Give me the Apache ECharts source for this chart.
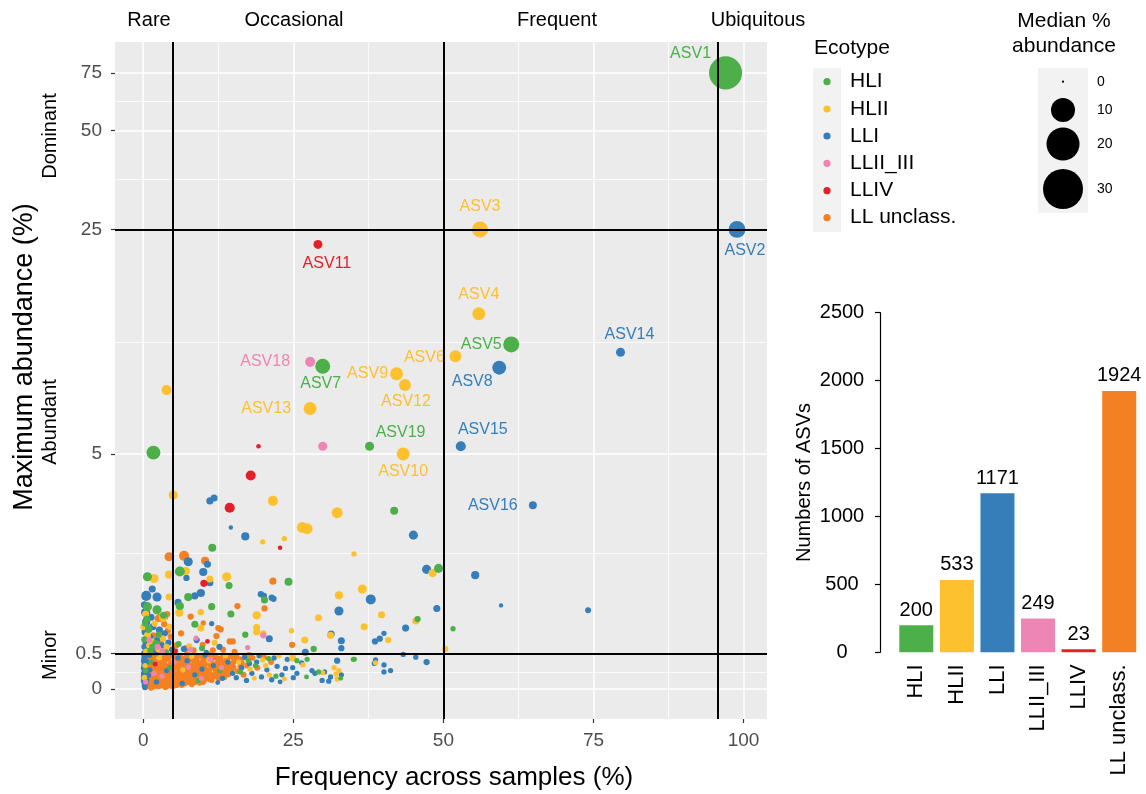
<!DOCTYPE html>
<html>
<head>
<meta charset="utf-8">
<title>ASV abundance vs frequency</title>
<script src="https://cdn.jsdelivr.net/npm/echarts@6.0.0/dist/echarts.min.js"></script>
<style>
html, body { margin: 0; padding: 0; background: #fff; }
#chart { width: 1146px; height: 794px; }
</style>
</head>
<body>
<div id="chart"></div>
<script>
//categories and counts
let ecotypes = ["HLI", "HLII", "LLI", "LLII_III", "LLIV", "LL unclass."];
let asvCounts = [200, 533, 1171, 249, 23, 1924];
let ecoColors = ["#4CAF49", "#FDC02F", "#357EBA", "#EE86B5", "#E3202A", "#F48024"];

//axis ticks
let xTicks = [0, 25, 50, 75, 100];
let yTicks = [0, 0.5, 5, 25, 50, 75];
let freqCuts = [5, 50, 95.7]; //rare / occasional / frequent / ubiquitous
let abundCuts = [0.5, 25]; //minor / abundant / dominant
let sizeBreaks = [0, 10, 20, 30];

//points: [frequency %, max abundance %, median abundance %, label]
let hli = [
    [97.0, 75, 20, "ASV1"], [61.3, 11.1, 4.0, "ASV5"], [29.9, 9.5, 3.4, "ASV7"], [37.7, 5.3, 1.0, "ASV19"],
    [1.7, 5.05, 2.9], [41.8, 3.2, 0.7], [11.5, 2.32, 0.7], [14.3, 1.58, 0.5], [24.2, 1.65, 0.7],
    [49.2, 1.9, 1.0], [0.7, 1.74, 1.0], [6.1, 1.84, 1.3], [0.7, 1.22, 1.0], [2.3, 1.17, 1.0],
    [6.1, 1.23, 0.75], [7.5, 1.38, 0.75], [20.2, 1.33, 0.5], [11.4, 1.22, 0.5], [14.6, 1.1, 0.5],
    [45.7, 1.02, 0.35], [8.6, 0.94, 0.5], [17.0, 0.78, 0.35], [28.4, 0.57, 0.35], [51.6, 0.87, 0.2],
    [35.0, 0.42, 0.2], [25.6, 0.40, 0.2], [27.3, 0.42, 0.2], [29.2, 0.24, 0.2], [0.9, 0.86, 0.5],
    [2.1, 0.65, 0.5], [3.4, 1.08, 0.5], [35.2, 0.42, 0.15], [27.2, 0.17, 0.15], [32.9, 0.15, 0.15],
    [0.6, 1.02, 0.5], [0.2, 0.71, 0.35], [1.5, 0.6, 0.35], [2.6, 0.78, 0.35], [0.9, 0.88, 0.35],
    [3.8, 0.52, 0.35], [1.2, 0.54, 0.35], [16.2, 0.24, 0.2], [18.7, 0.33, 0.2], [20.9, 0.43, 0.2],
    [22.1, 0.18, 0.2], [17.5, 0.4, 0.2], [4.4, 0.3, 0.2], [9.2, 0.12, 0.2], [1.3, 0.38, 0.2], [12.8, 0.26, 0.2],
    [0.3, 0.95, 0.35], [5.9, 0.64, 0.3], [9.8, 0.58, 0.3], [0.4, 0.26, 0.25]
];
let hlii = [
    [56.1, 25, 4.0, "ASV3"], [55.9, 13.8, 2.45, "ASV4"], [52.0, 10.2, 2.0, "ASV6"], [42.2, 9.0, 2.45, "ASV9"],
    [43.6, 8.3, 2.0, "ASV12"], [27.8, 7.0, 2.45, "ASV13"], [43.3, 5.0, 2.45, "ASV10"],
    [3.9, 8.0, 1.3], [5.0, 3.64, 1.0], [21.6, 3.47, 1.3], [32.3, 3.15, 1.6], [26.5, 2.78, 1.6],
    [27.3, 2.75, 1.6], [19.9, 2.45, 0.2], [23.5, 2.52, 0.2], [35.1, 2.19, 0.2], [4.3, 1.78, 0.75],
    [1.8, 1.71, 1.0], [7.1, 1.85, 0.75], [11.1, 1.7, 0.5], [13.9, 1.74, 1.0], [48.2, 1.81, 0.75],
    [4.3, 1.38, 0.5], [32.6, 1.41, 0.75], [36.5, 1.52, 1.0], [6.0, 1.12, 0.75], [9.6, 1.13, 0.35],
    [18.9, 1.08, 0.75], [29.2, 1.04, 0.5], [39.7, 1.09, 0.5], [45.4, 0.99, 0.5], [3.3, 1.04, 0.75],
    [9.6, 0.88, 0.5], [18.9, 0.89, 0.5], [18.9, 0.82, 0.5], [20.0, 0.8, 0.35], [24.7, 0.84, 0.2],
    [26.9, 0.70, 0.5], [40.8, 0.70, 0.35], [50.3, 0.57, 0.35], [24.9, 0.44, 0.5], [36.8, 0.9, 0.5],
    [31.2, 0.77, 0.5], [31.8, 0.3, 0.2], [32.6, 0.26, 0.2], [32.1, 0.21, 0.2], [32.3, 0.14, 0.2],
    [29.9, 0.23, 0.2], [26.6, 0.34, 0.2], [38.7, 0.37, 0.2],
    [0.4, 1.1, 0.5], [0.1, 0.9, 0.5], [1.4, 0.68, 0.35], [0.7, 0.77, 0.5], [2.5, 0.57, 0.35],
    [3.3, 0.72, 0.35], [1.9, 0.95, 0.35], [0.5, 0.53, 0.35], [4.4, 0.9, 0.35], [3.9, 0.6, 0.35],
    [2.2, 1.15, 0.5], [1.0, 0.62, 0.35],
    [15.9, 0.38, 0.2], [17.8, 0.28, 0.2], [19.9, 0.41, 0.2], [21.0, 0.2, 0.2], [22.6, 0.47, 0.2],
    [23.5, 0.14, 0.15], [18.5, 0.15, 0.15], [20.4, 0.33, 0.2], [0.3, 0.33, 0.2], [2.7, 0.44, 0.2],
    [6.6, 0.27, 0.2], [10.9, 0.4, 0.2], [13.7, 0.47, 0.2], [8.1, 0.46, 0.2],
    [0.2, 0.16, 0.25], [7.7, 0.61, 0.3], [11.9, 0.66, 0.3]
];
let lli = [
    [98.9, 25, 4.5, "ASV2"], [59.3, 9.4, 2.9, "ASV8"], [79.5, 10.5, 0.97, "ASV14"], [52.9, 5.3, 1.3, "ASV15"],
    [64.9, 3.35, 0.7, "ASV16"],
    [11.1, 3.47, 0.5], [11.8, 3.55, 0.5], [14.6, 2.78, 0.1], [17.0, 2.57, 0.75], [45.0, 2.6, 1.0],
    [7.5, 2.03, 1.0], [10.7, 1.98, 0.5], [10.0, 1.83, 0.75], [7.2, 1.72, 0.35], [11.1, 1.63, 0.5],
    [55.3, 1.77, 0.75], [59.6, 1.24, 0.1], [74.1, 1.16, 0.3], [0.5, 1.40, 1.3], [1.5, 1.52, 0.5],
    [2.3, 1.38, 1.0], [5.8, 1.29, 0.5], [8.6, 1.40, 0.5], [9.6, 1.45, 0.75], [19.6, 1.43, 0.35],
    [20.1, 1.40, 0.35], [21.4, 1.37, 0.35], [21.7, 1.35, 0.35], [0.4, 1.13, 1.0], [11.4, 0.95, 0.2],
    [21.0, 0.72, 0.5], [31.3, 0.79, 0.5], [47.2, 1.88, 1.0], [37.9, 1.34, 1.3], [32.6, 1.15, 1.0],
    [48.9, 1.19, 0.5], [43.7, 0.88, 0.5], [40.1, 0.8, 0.2], [39.4, 0.72, 0.35], [38.6, 0.68, 0.35],
    [33.0, 0.69, 0.5], [33.0, 0.58, 0.35], [27.0, 0.52, 0.5], [43.3, 0.49, 0.2], [45.4, 0.45, 0.2],
    [47.2, 0.38, 0.35], [32.3, 0.40, 0.35], [38.7, 0.41, 0.2], [40.1, 0.34, 0.2], [40.1, 0.24, 0.2],
    [41.2, 0.26, 0.2], [28.1, 0.26, 0.2], [28.6, 0.22, 0.2], [30.2, 0.24, 0.2], [31.2, 0.17, 0.2],
    [29.8, 0.12, 0.2], [30.9, 0.11, 0.2], [33.0, 0.2, 0.2], [26.4, 0.37, 0.2], [24.9, 0.30, 0.2],
    [25.6, 0.22, 0.2], [25.0, 0.16, 0.2], [38.5, 0.36, 0.2],
    [15.5, 0.16, 0.2], [16.4, 0.3, 0.2], [17.2, 0.12, 0.2], [18.1, 0.22, 0.2], [18.9, 0.38, 0.2],
    [19.7, 0.17, 0.2], [20.6, 0.27, 0.2], [21.4, 0.13, 0.2], [22.3, 0.32, 0.2], [23.1, 0.2, 0.2],
    [24.0, 0.42, 0.2], [16.9, 0.45, 0.2], [19.3, 0.47, 0.2], [21.8, 0.44, 0.2], [14.9, 0.22, 0.2],
    [23.7, 0.29, 0.2], [22.8, 0.1, 0.15], [17.7, 0.36, 0.2],
    [0.2, 1.25, 0.5], [0.5, 0.98, 0.75], [0.3, 0.82, 0.5], [1.1, 0.74, 0.5], [0.4, 0.66, 0.35],
    [0.9, 0.58, 0.35], [1.6, 0.9, 0.5], [2.3, 0.7, 0.35], [0.6, 0.55, 0.35], [3.1, 0.62, 0.35],
    [1.8, 0.52, 0.35], [4.2, 0.66, 0.35], [2.7, 0.85, 0.5], [0.2, 0.6, 0.35], [3.6, 0.8, 0.35],
    [4.8, 0.56, 0.35], [1.3, 1.05, 0.5], [2.0, 0.61, 0.35], [6.8, 0.57, 0.35], [8.9, 0.7, 0.35],
    [12.7, 0.6, 0.35], [10.5, 0.52, 0.2],
    [0.2, 0.45, 0.3], [0.1, 0.3, 0.3], [0.3, 0.15, 0.3], [0.2, 0.05, 0.2], [0.6, 0.38, 0.3],
    [0.1, 0.22, 0.3], [0.4, 0.09, 0.3], [1.1, 0.27, 0.2], [2.2, 0.1, 0.2], [5.8, 0.44, 0.2],
    [8.6, 0.2, 0.2], [11.7, 0.33, 0.2], [13.2, 0.15, 0.2], [6.5, 0.08, 0.2], [10.3, 0.48, 0.2],
    [3.9, 0.26, 0.2], [0.5, 0.12, 0.3], [0.3, 0.02, 0.2], [1.0, 0.48, 0.3], [0.8, 0.19, 0.3],
    [14.1, 0.38, 0.2], [12.4, 0.09, 0.15], [9.8, 0.28, 0.2], [7.3, 0.4, 0.2],
    [0.1, 0.4, 0.3], [0.2, 0.35, 0.3], [0.4, 0.25, 0.3], [0.1, 0.18, 0.3], [0.3, 0.07, 0.3],
    [0.1, 0.12, 0.3], [0.5, 0.2, 0.3], [0.2, 0.28, 0.3], [0.1, 0.5, 0.3]
];
let llii = [
    [27.8, 9.8, 1.3, "ASV18"], [29.9, 5.3, 1.0], [20.0, 0.77, 0.35], [8.8, 0.73, 0.2], [17.4, 0.59, 0.2],
    [7.9, 0.56, 0.2], [1.0, 0.7, 0.3], [2.4, 0.6, 0.3], [3.2, 0.54, 0.3], [7.5, 0.31, 0.2],
    [3.1, 0.18, 0.2], [11.2, 0.42, 0.2], [5.1, 0.38, 0.2], [1.8, 0.22, 0.2], [0.4, 0.1, 0.2],
    [9.7, 0.15, 0.2], [13.0, 0.3, 0.2]
];
let lliv = [
    [29.1, 22.5, 0.97, "ASV11"], [19.2, 5.3, 0.12], [17.9, 4.24, 1.3], [14.4, 3.28, 1.3],
    [22.8, 2.32, 0.12], [10.1, 1.62, 0.5], [10.7, 0.68, 0.15], [5.4, 0.54, 0.15], [2.0, 0.35, 0.15]
];
let llUnclass = [
    [4.3, 2.13, 1.0], [6.8, 2.15, 1.3], [10.3, 2.05, 0.75], [15.7, 1.23, 0.35], [20.2, 1.19, 0.35],
    [21.6, 1.66, 0.5], [12.5, 0.88, 0.35], [10.0, 0.96, 0.2], [2.8, 1.04, 0.75], [3.6, 1.06, 0.5],
    [7.9, 1.06, 0.35], [12.9, 0.86, 0.35], [14.4, 0.68, 0.35], [14.9, 0.68, 0.35], [12.2, 0.76, 0.35],
    [4.1, 0.84, 0.35], [2.5, 1.03, 0.5], [24.8, 0.63, 0.35],
    [1.7, 0.77, 0.35], [0.8, 0.64, 0.35], [2.9, 0.67, 0.35], [3.5, 0.94, 0.35], [4.6, 0.75, 0.35],
    [0.3, 0.52, 0.35], [2.1, 0.55, 0.35], [4.0, 1.1, 0.35], [5.5, 0.62, 0.35], [6.3, 0.8, 0.35],
    [7.2, 0.58, 0.35], [8.4, 0.55, 0.3], [9.9, 0.63, 0.3], [11.6, 0.55, 0.3], [13.3, 0.56, 0.3], [15.2, 0.53, 0.3],
    //dense cloud below 0.5 %
    [0.9, 0.47, 0.35], [2.3, 0.49, 0.35], [3.6, 0.45, 0.35], [4.7, 0.48, 0.35], [6.1, 0.46, 0.35],
    [7.3, 0.49, 0.35], [8.2, 0.44, 0.35], [9.6, 0.47, 0.35], [10.8, 0.49, 0.35], [12.1, 0.45, 0.35],
    [13.4, 0.48, 0.35], [14.6, 0.46, 0.35],
    [0.3, 0.44, 0.35], [1.6, 0.45, 0.35], [3.0, 0.43, 0.35], [4.2, 0.44, 0.35], [5.6, 0.45, 0.35],
    [6.9, 0.43, 0.35], [8.8, 0.45, 0.35], [10.1, 0.44, 0.35], [11.5, 0.46, 0.35], [12.8, 0.43, 0.35],
    [14.0, 0.44, 0.35], [15.6, 0.42, 0.3], [16.9, 0.45, 0.3],
    [0.5, 0.41, 0.35], [1.7, 0.42, 0.35], [2.9, 0.4, 0.35], [4.1, 0.43, 0.35], [5.3, 0.41, 0.35],
    [6.6, 0.39, 0.35], [7.8, 0.42, 0.35], [8.9, 0.4, 0.35], [10.2, 0.43, 0.35], [11.3, 0.41, 0.35],
    [12.7, 0.39, 0.35], [13.9, 0.42, 0.35], [15.2, 0.4, 0.35],
    [0.9, 0.38, 0.35], [2.2, 0.38, 0.35], [3.5, 0.39, 0.35], [4.9, 0.37, 0.35], [6.2, 0.38, 0.35],
    [7.5, 0.39, 0.35], [8.6, 0.37, 0.35], [9.9, 0.38, 0.35], [11.0, 0.39, 0.35], [12.4, 0.37, 0.35],
    [13.6, 0.38, 0.35], [14.9, 0.36, 0.35], [16.4, 0.37, 0.3],
    [1.2, 0.35, 0.35], [2.4, 0.36, 0.35], [3.3, 0.34, 0.35], [4.6, 0.35, 0.35], [5.9, 0.33, 0.35],
    [7.0, 0.36, 0.35], [8.4, 0.34, 0.35], [9.5, 0.35, 0.35], [10.7, 0.37, 0.35], [11.9, 0.34, 0.35],
    [13.1, 0.36, 0.35], [14.3, 0.33, 0.35],
    [0.4, 0.32, 0.35], [1.6, 0.33, 0.35], [2.8, 0.31, 0.35], [4.0, 0.32, 0.35], [5.2, 0.33, 0.35],
    [6.5, 0.31, 0.35], [7.6, 0.32, 0.35], [8.8, 0.33, 0.35], [10.1, 0.31, 0.35], [11.3, 0.32, 0.35],
    [12.5, 0.31, 0.35], [13.7, 0.32, 0.35], [15.0, 0.3, 0.35], [16.2, 0.32, 0.3],
    [0.7, 0.29, 0.35], [1.9, 0.3, 0.35], [3.0, 0.28, 0.35], [4.3, 0.29, 0.35], [5.5, 0.31, 0.35],
    [6.8, 0.28, 0.35], [7.9, 0.3, 0.35], [9.1, 0.29, 0.35], [10.4, 0.27, 0.35], [11.6, 0.3, 0.35],
    [12.8, 0.28, 0.35], [14.0, 0.27, 0.35],
    [1.1, 0.26, 0.35], [2.3, 0.27, 0.35], [3.5, 0.25, 0.35], [4.8, 0.26, 0.35], [6.0, 0.27, 0.35],
    [7.2, 0.25, 0.35], [8.4, 0.26, 0.35], [9.7, 0.27, 0.35], [10.9, 0.25, 0.35], [12.1, 0.26, 0.35],
    [13.3, 0.27, 0.35], [14.6, 0.25, 0.35],
    [1.4, 0.23, 0.35], [2.6, 0.24, 0.35], [3.8, 0.22, 0.35], [5.0, 0.23, 0.35], [6.2, 0.25, 0.35],
    [7.5, 0.22, 0.35], [8.7, 0.24, 0.35], [9.9, 0.23, 0.35], [11.1, 0.21, 0.35], [12.4, 0.24, 0.35],
    [13.6, 0.22, 0.35],
    [0.3, 0.2, 0.35], [1.7, 0.2, 0.35], [3.0, 0.21, 0.35], [4.2, 0.2, 0.35], [5.4, 0.21, 0.35],
    [6.6, 0.19, 0.35], [7.9, 0.2, 0.35], [9.2, 0.21, 0.35], [10.5, 0.2, 0.35], [11.7, 0.19, 0.35],
    [13.0, 0.2, 0.35], [14.2, 0.21, 0.35],
    [0.9, 0.17, 0.35], [2.1, 0.18, 0.35], [3.4, 0.16, 0.35], [4.5, 0.17, 0.35], [5.8, 0.19, 0.35],
    [7.1, 0.16, 0.35], [8.3, 0.18, 0.35], [9.6, 0.17, 0.35], [10.9, 0.16, 0.35], [12.2, 0.18, 0.35],
    [13.5, 0.17, 0.35],
    [1.2, 0.14, 0.35], [2.4, 0.15, 0.35], [3.7, 0.14, 0.35], [4.9, 0.15, 0.35], [6.1, 0.14, 0.35],
    [7.4, 0.15, 0.35], [8.6, 0.14, 0.35], [9.9, 0.15, 0.35], [11.1, 0.14, 0.35], [12.6, 0.15, 0.35],
    [0.4, 0.12, 0.35], [1.6, 0.11, 0.35], [2.8, 0.13, 0.35], [4.0, 0.11, 0.35], [5.2, 0.12, 0.35],
    [6.4, 0.1, 0.35], [7.7, 0.12, 0.35], [8.9, 0.11, 0.35], [10.1, 0.12, 0.35], [11.4, 0.13, 0.35],
    [0.2, 0.09, 0.35], [1.4, 0.09, 0.35], [2.6, 0.1, 0.35], [3.8, 0.09, 0.35], [5.0, 0.1, 0.35],
    [6.2, 0.09, 0.35], [7.4, 0.1, 0.35], [8.6, 0.1, 0.35], [9.9, 0.1, 0.35],
    [0.8, 0.07, 0.35], [2.0, 0.06, 0.35], [3.2, 0.08, 0.35], [4.4, 0.07, 0.35], [5.6, 0.06, 0.35],
    [6.9, 0.08, 0.35], [8.1, 0.07, 0.35], [9.4, 0.09, 0.35],
    [0.5, 0.05, 0.35], [1.7, 0.04, 0.35], [2.9, 0.05, 0.35], [4.1, 0.05, 0.35], [5.3, 0.06, 0.35],
    [6.4, 0.06, 0.35],
    [0.3, 0.03, 0.35], [1.3, 0.02, 0.35], [2.5, 0.04, 0.35], [3.7, 0.03, 0.35], [4.9, 0.04, 0.35],
    [16.1, 0.42, 0.3], [17.3, 0.33, 0.3], [15.8, 0.25, 0.3], [16.7, 0.2, 0.3], [18.2, 0.44, 0.3],
    [19.0, 0.3, 0.3], [17.6, 0.48, 0.3], [20.1, 0.45, 0.3], [21.3, 0.38, 0.3], [15.5, 0.47, 0.3]
];

//label offsets (px from point centre)
let labelOffsets = {
    ASV1: [-35, -19], ASV2: [8, 21], ASV3: [0, -23], ASV4: [0, -19], ASV5: [-30, 0],
    ASV6: [-31, 1], ASV7: [-2, 17], ASV8: [-27, 14], ASV9: [-29, 0], ASV10: [0, 18],
    ASV11: [9, 19], ASV12: [1, 17], ASV13: [-44, 0], ASV14: [9, -18], ASV15: [22, -17],
    ASV16: [-40, 0], ASV18: [-45, 0], ASV19: [31, -14]
};

var FONT = '"Liberation Sans", Arial, Helvetica, sans-serif';

//pseudo-log transform (sigma 1) used on the abundance axis
function tr(v) {
    return Math.asinh(v / 2);
}
function dotSize(m) {
    return 2.2 + 6.9 * Math.sqrt(m);
}

function scatterSeries(name, pts, color) {
    return {
        type: "scatter",
        name: name,
        xAxisIndex: 0,
        yAxisIndex: 0,
        z: 3,
        emphasis: { disabled: true },
        itemStyle: { color: color, opacity: 1 },
        symbolSize: function (val) { return dotSize(val[2]); },
        data: pts.map(function (p) {
            var item = { value: [p[0], tr(p[1]), p[2]] };
            if (p[3]) {
                item.label = {
                    show: true, position: "inside", offset: labelOffsets[p[3]],
                    formatter: p[3], color: color, fontSize: 16, fontFamily: FONT,
                    textBorderWidth: 0
                };
            }
            return item;
        })
    };
}

//grid lines (white) and thresholds (black)
var gridLines = [];
var yt = yTicks.map(tr);
xTicks.forEach(function (v) { gridLines.push({ xAxis: v, lineStyle: { color: "#fff", width: 1.5, type: "solid" } }); });
for (var i = 0; i < xTicks.length - 1; i++) {
    gridLines.push({ xAxis: (xTicks[i] + xTicks[i + 1]) / 2, lineStyle: { color: "#fff", width: 0.8, type: "solid" } });
}
yt.forEach(function (v) { gridLines.push({ yAxis: v, lineStyle: { color: "#fff", width: 1.5, type: "solid" } }); });
for (var j = 0; j < yt.length - 1; j++) {
    gridLines.push({ yAxis: (yt[j] + yt[j + 1]) / 2, lineStyle: { color: "#fff", width: 0.8, type: "solid" } });
}
var cutLines = [];
freqCuts.forEach(function (v) { cutLines.push({ xAxis: v }); });
abundCuts.forEach(function (v) { cutLines.push({ yAxis: tr(v) }); });

var series = [
    scatterSeries("LL unclass.", llUnclass, ecoColors[5]),
    scatterSeries("LLI", lli, ecoColors[2]),
    scatterSeries("HLII", hlii, ecoColors[1]),
    scatterSeries("HLI", hli, ecoColors[0]),
    scatterSeries("LLII_III", llii, ecoColors[3]),
    scatterSeries("LLIV", lliv, ecoColors[4])
];
series[0].markLine = {
    silent: true, symbol: "none", z: 1, animation: false,
    label: { show: false }, data: gridLines
};
series[5].markLine = {
    silent: true, symbol: "none", z: 6, animation: false,
    label: { show: false },
    lineStyle: { color: "#000", width: 2, type: "solid" },
    data: cutLines
};
series.push({
    type: "bar",
    xAxisIndex: 1,
    yAxisIndex: 1,
    barWidth: 34,
    emphasis: { disabled: true },
    label: { show: true, position: "top", distance: 5, fontSize: 20, color: "#000", fontFamily: FONT },
    data: asvCounts.map(function (v, k) {
        return { value: v, itemStyle: { color: ecoColors[k] } };
    })
});

//legends, side texts
var graphics = [];
function txt(s, x, y, size, opts) {
    opts = opts || {};
    graphics.push({
        type: "text", x: x, y: y, rotation: opts.rot || 0, silent: true,
        style: {
            text: s, fontSize: size, fontFamily: FONT, fill: opts.fill || "#000",
            align: opts.align || "center", verticalAlign: "middle"
        }
    });
}
txt("Rare", 149, 20, 20);
txt("Occasional", 294, 20, 20);
txt("Frequent", 557, 20, 20);
txt("Ubiquitous", 758, 20, 20);
txt("Dominant", 50, 136, 20, { rot: Math.PI / 2 });
txt("Abundant", 50, 422, 20, { rot: Math.PI / 2 });
txt("Minor", 50, 655, 20, { rot: Math.PI / 2 });
txt("Maximum abundance (%)", 25, 357, 27, { rot: Math.PI / 2 });
txt("Frequency across samples (%)", 454, 778, 26);

txt("Ecotype", 814, 48, 21, { align: "left" });
graphics.push({ type: "rect", silent: true, shape: { x: 813, y: 68, width: 28, height: 164 }, style: { fill: "#F2F2F2" } });
var legY = [81.7, 109, 136, 163.3, 190.7, 217.7];
ecotypes.forEach(function (e, k) {
    graphics.push({ type: "circle", silent: true, shape: { cx: 827, cy: legY[k], r: 3.6 }, style: { fill: ecoColors[k] } });
    txt(e, 850, legY[k], 21, { align: "left" });
});

txt("Median %", 1064, 21, 21);
txt("abundance", 1064, 46, 21);
graphics.push({ type: "rect", silent: true, shape: { x: 1038, y: 68, width: 50, height: 145 }, style: { fill: "#F2F2F2" } });
var sizeY = [81.7, 110, 144, 189];
sizeBreaks.forEach(function (b, k) {
    graphics.push({ type: "circle", silent: true, shape: { cx: 1063, cy: sizeY[k], r: dotSize(b) / 2 }, style: { fill: "#000" } });
    txt(String(b), 1097, sizeY[k], 14, { align: "left" });
});

var myChart = echarts.init(document.getElementById("chart"), null, { renderer: "canvas" });
var option = {
    animation: false,
    backgroundColor: "#fff",
    textStyle: { fontFamily: FONT },
    grid: [
        { left: 115, right: 379, top: 42, bottom: 75, show: true, backgroundColor: "#EBEBEB", borderWidth: 0 },
        { left: 896, right: 6.5, top: 312.7, bottom: 141.7 }
    ],
    xAxis: [
        {
            type: "value", gridIndex: 0, min: -4.7, max: 103.9,
            axisLine: { show: false, onZero: false },
            axisTick: { show: true, customValues: xTicks, length: 4, lineStyle: { color: "#333", width: 1.2 } },
            axisLabel: { customValues: xTicks, fontSize: 19, color: "#4D4D4D", margin: 12, fontFamily: FONT },
            splitLine: { show: false }
        },
        {
            type: "category", gridIndex: 1, data: ecotypes,
            axisLine: { show: false },
            axisTick: { show: false },
            axisLabel: { rotate: 90, interval: 0, fontSize: 22, color: "#000", margin: 12, fontFamily: FONT }
        }
    ],
    yAxis: [
        {
            type: "value", gridIndex: 0, min: -0.21, max: 4.534,
            axisLine: { show: false, onZero: false },
            axisTick: { show: true, customValues: yt, length: 4, lineStyle: { color: "#333", width: 1.2 } },
            axisLabel: {
                customValues: yt, fontSize: 19, color: "#4D4D4D", margin: 13, fontFamily: FONT,
                formatter: function (val) {
                    var best = 0;
                    for (var k = 0; k < yt.length; k++) {
                        if (Math.abs(yt[k] - val) < Math.abs(yt[best] - val)) best = k;
                    }
                    return String(yTicks[best]);
                }
            },
            splitLine: { show: false }
        },
        {
            type: "value", gridIndex: 1, min: 0, max: 2500, interval: 500, offset: 16,
            name: "Numbers of ASVs", nameLocation: "middle", nameGap: 66, nameRotate: 90,
            nameTextStyle: { fontSize: 20, color: "#000", fontFamily: FONT },
            axisLine: { show: true, lineStyle: { color: "#000", width: 1.2 } },
            axisTick: { show: true, length: 5, lineStyle: { color: "#000", width: 1.2 } },
            axisLabel: {
                fontSize: 20, color: "#000", align: "center", margin: 38, fontFamily: FONT,
                formatter: function (v) { return String(v); }
            },
            splitLine: { show: false }
        }
    ],
    graphic: graphics,
    series: series
};
myChart.setOption(option);
</script>
</body>
</html>
